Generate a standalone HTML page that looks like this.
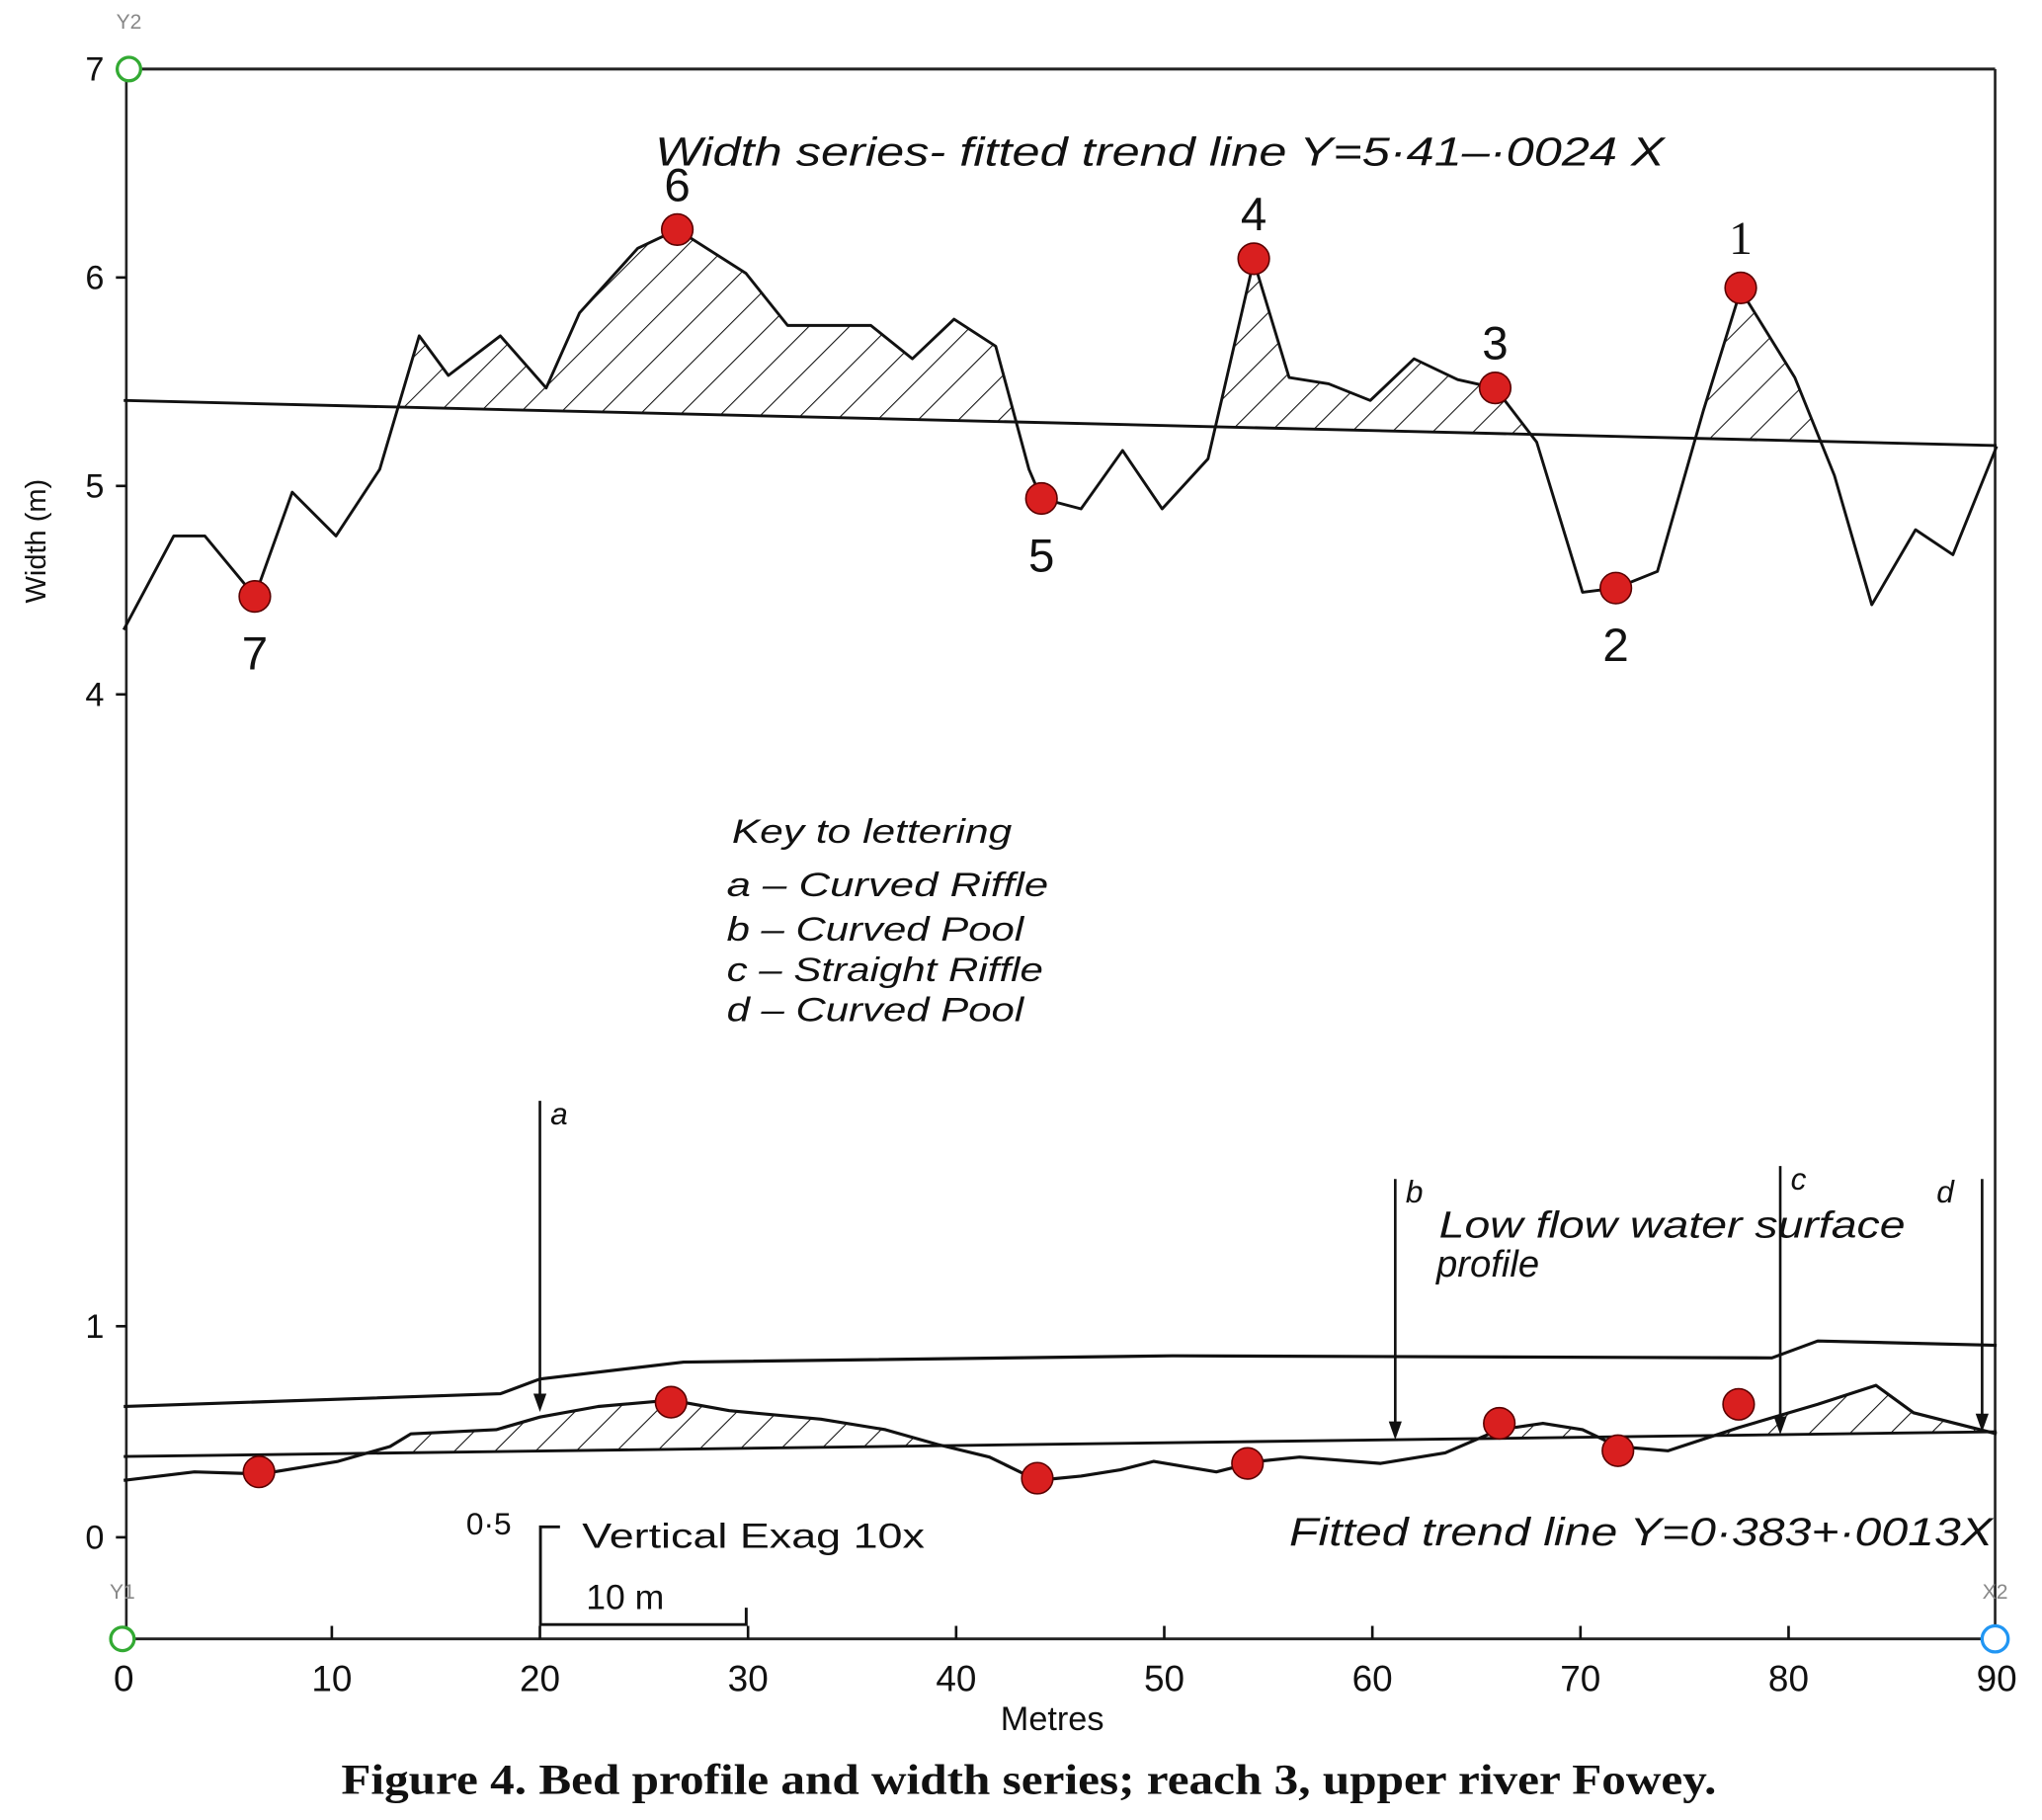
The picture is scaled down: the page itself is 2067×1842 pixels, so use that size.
<!DOCTYPE html>
<html><head><meta charset="utf-8"><style>
html,body{margin:0;padding:0;background:#fff}
svg{display:block}
text{font-family:"Liberation Sans",sans-serif;fill:#111}
.it{font-style:italic}
</style></head><body>
<svg id="chart" width="2067" height="1842" viewBox="0 0 1568 1397" preserveAspectRatio="none" xmlns="http://www.w3.org/2000/svg">
<defs>
<pattern id="hatch" patternUnits="userSpaceOnUse" width="22" height="22" patternTransform="rotate(45)">
<line x1="0" y1="0" x2="0" y2="22" stroke="#111" stroke-width="1.6"/>
</pattern>
</defs>
<g id="frame">
<line x1="97" y1="53" x2="1532" y2="53" stroke="#222" stroke-width="2.2"/>
<line x1="97" y1="53" x2="97" y2="1258" stroke="#222" stroke-width="2"/>
<line x1="1532" y1="53" x2="1532" y2="1258" stroke="#222" stroke-width="2"/>
<line x1="94" y1="1258" x2="1532" y2="1258" stroke="#222" stroke-width="2.2"/>
</g>
<g id="hatches"></g>
<g id="lines"></g>
<g id="ticks"></g>
<g id="dots"></g>
<text x="22" y="450" transform="rotate(-90 35 450)" font-size="22">Width (m)</text>
<text x="99" y="22" font-size="16" text-anchor="middle" style="fill:#888">Y2</text>
<text x="94" y="1227" font-size="16" text-anchor="middle" style="fill:#888">Y1</text>
<text x="1532" y="1227" font-size="16" text-anchor="middle" style="fill:#888">X2</text>
<circle cx="99" cy="53" r="9" fill="#fff" stroke="#3a3" stroke-width="2.5"/>
<circle cx="94" cy="1258" r="9" fill="#fff" stroke="#3a3" stroke-width="2.5"/>
<circle cx="1532" cy="1258" r="10" fill="#fff" stroke="#2196f3" stroke-width="2.5"/>
<text x="503" y="127" font-size="31" class="it" textLength="775" lengthAdjust="spacingAndGlyphs">Width series- fitted  trend  line Y=5·41–·0024 X</text>
<g font-size="26">
<text x="562" y="647" class="it" textLength="215" lengthAdjust="spacingAndGlyphs">Key to lettering</text>
<text x="558" y="688" class="it" textLength="247" lengthAdjust="spacingAndGlyphs">a – Curved   Riffle</text>
<text x="558" y="722" class="it" textLength="228" lengthAdjust="spacingAndGlyphs">b – Curved   Pool</text>
<text x="558" y="753" class="it" textLength="243" lengthAdjust="spacingAndGlyphs">c – Straight  Riffle</text>
<text x="558" y="784" class="it" textLength="228" lengthAdjust="spacingAndGlyphs">d – Curved   Pool</text>
</g>
<text x="1105" y="950" font-size="29" class="it" textLength="358" lengthAdjust="spacingAndGlyphs">Low flow  water surface</text>
<text x="1103" y="980" font-size="29" class="it">profile</text>
<text x="990" y="1186" font-size="30" class="it" textLength="540" lengthAdjust="spacingAndGlyphs">Fitted  trend line  Y=0·383+·0013X</text>
<g>
<text x="358" y="1178" font-size="24">0·5</text>
<polyline points="430,1172 415,1172 415,1247 573,1247 573,1234" fill="none" stroke="#111" stroke-width="2.2"/>
<text x="447" y="1188" font-size="27" textLength="263" lengthAdjust="spacingAndGlyphs">Vertical  Exag  10x</text>
<text x="450" y="1235" font-size="27">10  m</text>
</g>
<text x="808" y="1328" font-size="26" text-anchor="middle">Metres</text>
<text x="262" y="1377" font-size="33" font-weight="bold" textLength="1056" lengthAdjust="spacingAndGlyphs" style="font-family:'Liberation Serif',serif">Figure 4.   Bed profile and width series; reach 3, upper river Fowey.</text>
</svg>
<script>
// ---- data ----
const widthX = [0,2.4,3.9,6.3,8.1,10.2,12.3,14.2,15.6,18.1,20.3,21.9,24.7,26.6,29.9,31.9,35.9,37.9,39.9,41.9,43.5,44.1,46,48,49.9,52.1,54.3,56,57.9,59.9,62,64.1,65.9,67.9,70.1,71.7,73.7,75.9,77.7,80.3,82.2,84,86.1,87.9,90];
const widthY = [4.31,4.76,4.76,4.47,4.97,4.76,5.08,5.72,5.53,5.72,5.47,5.83,6.14,6.23,6.02,5.77,5.77,5.61,5.80,5.67,5.08,4.94,4.89,5.17,4.89,5.13,6.08,5.52,5.49,5.41,5.61,5.51,5.47,5.21,4.49,4.51,4.59,5.36,5.94,5.52,5.05,4.43,4.79,4.67,5.19];
const widthTrend = [5.41, -0.0024];
const bedX = [0,3.4,6.6,10.3,12.8,13.8,17.9,20.0,22.8,26.3,29.1,33.5,36.6,39.1,41.6,43.9,46,47.9,49.5,52.5,54.5,56.5,60.4,63.5,66.1,68.2,70.1,71.8,74.2,77.6,81.4,84.2,86,90];
const bedY = [0.27,0.31,0.30,0.36,0.43,0.49,0.51,0.57,0.62,0.65,0.60,0.56,0.51,0.44,0.38,0.27,0.29,0.32,0.36,0.31,0.36,0.38,0.35,0.40,0.51,0.54,0.51,0.43,0.41,0.52,0.63,0.72,0.59,0.49];
const bedTrend = [0.383, 0.0013];
const waterX = [0,18.1,20,26.9,50.4,79.2,81.4,90];
const waterY = [0.62,0.68,0.75,0.83,0.86,0.85,0.93,0.91];
const widthDotX = [6.3,26.6,44.1,54.3,65.9,71.7,77.7];
const widthDotY = [4.47,6.23,4.94,6.09,5.47,4.51,5.95];
const widthDotLabels = ["7","6","5","4","3","2","1"];
const labelAbove = [false,true,false,true,true,false,true];
const bedDotX = [6.5,26.3,43.9,54,66.1,71.8,77.6];
const bedDotY = [0.31,0.64,0.28,0.35,0.54,0.41,0.63];
const xTicks = [0,10,20,30,40,50,60,70,80,90];
const topTicks = [7,6,5,4];
const botTicks = [1,0];
const arrowX = [20,61.1,79.6,89.3];
const arrowLetters = ["a","b","c","d"];
// ---- scales ----
const X = v => 95 + v*15.98;
const YW = v => 53 + (7 - v)*160;
const YB = v => 1180 - v*162;
const NS = "http://www.w3.org/2000/svg";
function mk(tag, parent){const e=document.createElementNS(NS,tag);document.getElementById(parent).appendChild(e);return e;}
const wTr = x => widthTrend[0] + widthTrend[1]*x;
const bTr = x => bedTrend[0] + bedTrend[1]*x;
function hatchPoly(xs, ys, tr, Y){
  let d='';
  const n=xs.length;
  for(let i=0;i<n;i++){
    const px=xs[i], py=Math.max(ys[i], tr(xs[i]));
    d += (i?'L':'M') + X(px).toFixed(1)+','+Y(py).toFixed(1);
    if(i<n-1){
      const d0=ys[i]-tr(xs[i]), d1=ys[i+1]-tr(xs[i+1]);
      if((d0>0)!==(d1>0)){
        const t=d0/(d0-d1); const cx=xs[i]+t*(xs[i+1]-xs[i]);
        d+='L'+X(cx).toFixed(1)+','+Y(tr(cx)).toFixed(1);
      }
    }
  }
  d+='L'+X(xs[n-1])+','+Y(tr(xs[n-1]))+'L'+X(xs[0])+','+Y(tr(xs[0]))+'Z';
  return d;
}
let h=mk('path','hatches');
h.setAttribute('d',hatchPoly(widthX,widthY,wTr,YW));
h.setAttribute('fill','url(#hatch)');


h=mk('path','hatches');
h.setAttribute('d',hatchPoly(bedX,bedY,bTr,YB));
h.setAttribute('fill','url(#hatch)');


function line(xs,ys,Y,name,w){
  const p=mk('polyline','lines');
  p.setAttribute('points',xs.map((x,i)=>X(x).toFixed(1)+','+Y(ys[i]).toFixed(1)).join(' '));
  p.setAttribute('fill','none');p.setAttribute('stroke','#111');p.setAttribute('stroke-width',w);
  p.setAttribute('stroke-linejoin','round');
  
  
}
line(widthX,widthY,YW,'width-series-line',2.2);
line([0,90],[wTr(0),wTr(90)],YW,'width-trend-line',2.2);
line(bedX,bedY,YB,'bed-profile-line',2.4);
line([0,90],[bTr(0),bTr(90)],YB,'bed-trend-line',2.2);
line(waterX,waterY,YB,'water-surface-line',2.4);
xTicks.forEach(v=>{
  const l=mk('line','ticks');l.setAttribute('x1',X(v));l.setAttribute('x2',X(v));l.setAttribute('y1',1258);l.setAttribute('y2',1248);l.setAttribute('stroke','#111');l.setAttribute('stroke-width',2);
  
  
  const t=mk('text','ticks');t.setAttribute('x',X(v));t.setAttribute('y',1298);t.setAttribute('font-size',28);t.setAttribute('text-anchor','middle');t.textContent=v;
  
  
});
function yTick(v,Y){
  const l=mk('line','ticks');l.setAttribute('x1',89);l.setAttribute('x2',97);l.setAttribute('y1',Y(v));l.setAttribute('y2',Y(v));l.setAttribute('stroke','#111');l.setAttribute('stroke-width',2);
  
  
  const t=mk('text','ticks');t.setAttribute('x',80);t.setAttribute('y',Y(v)+9);t.setAttribute('font-size',26);t.setAttribute('text-anchor','end');t.textContent=v;
  
  
}
topTicks.forEach(v=>yTick(v,YW));
botTicks.forEach(v=>yTick(v,YB));
arrowX.forEach((v,i)=>{
  const top = i===0?845:(i===2?895:905);
  const yEnd = YB(Math.max(bTr(v), 0))+ (i===0?-30:0);
  const l=mk('line','lines');l.setAttribute('x1',X(v));l.setAttribute('x2',X(v));l.setAttribute('y1',top);l.setAttribute('y2',yEnd-4);l.setAttribute('stroke','#111');l.setAttribute('stroke-width',2);
  
  
  const p=mk('path','lines');const ax=X(v);
  p.setAttribute('d',`M${ax-5},${yEnd-14}L${ax},${yEnd}L${ax+5},${yEnd-14}Z`);p.setAttribute('fill','#111');
  
  
  const t=mk('text','lines');t.setAttribute('x',i===3?ax-35:ax+8);t.setAttribute('y',top+18);t.setAttribute('font-size',24);t.setAttribute('class','it');t.textContent=arrowLetters[i];
  
  
});
widthDotX.forEach((v,i)=>{
  const c=mk('circle','dots');c.setAttribute('cx',X(v));c.setAttribute('cy',YW(widthDotY[i]));c.setAttribute('r',12);c.setAttribute('fill','#d91f1f');c.setAttribute('stroke','#5a0000');c.setAttribute('stroke-width',1.2);
  
  
  const t=mk('text','dots');t.setAttribute('x',X(v));t.setAttribute('y',YW(widthDotY[i])+(labelAbove[i]?-22:56));t.setAttribute('font-size',36);t.setAttribute('text-anchor','middle');
  if(widthDotLabels[i]==='1'){t.setAttribute('style','font-family:"Liberation Serif",serif');t.setAttribute('y',YW(widthDotY[i])-26);}
  t.textContent=widthDotLabels[i];
  
  
});
bedDotX.forEach((v,i)=>{
  const c=mk('circle','dots');c.setAttribute('cx',X(v));c.setAttribute('cy',YB(bedDotY[i]));c.setAttribute('r',12);c.setAttribute('fill','#d91f1f');c.setAttribute('stroke','#5a0000');c.setAttribute('stroke-width',1.2);
  
  
});
</script>
</body></html>
